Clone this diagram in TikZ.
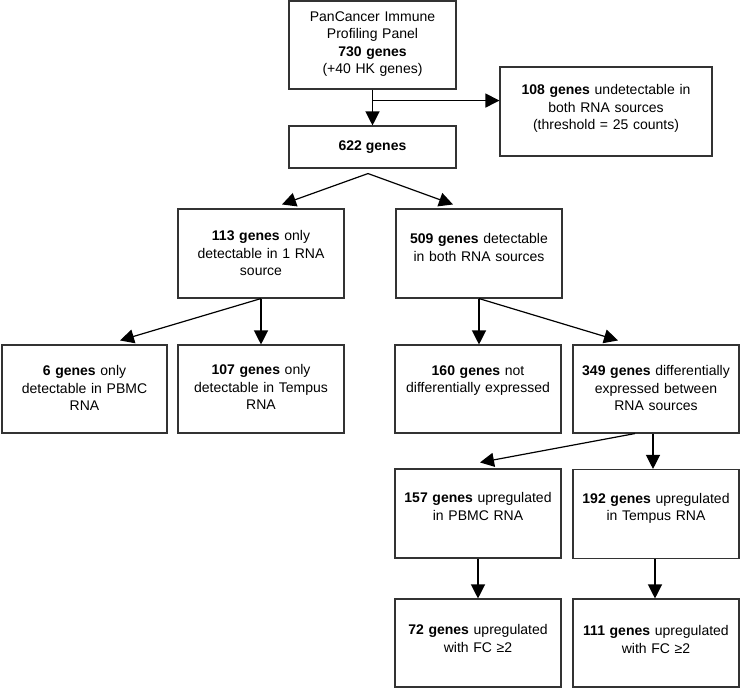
\documentclass[tikz,border=0pt]{standalone}
\usepackage{fontspec}
\setmainfont{Liberation Sans}
\usetikzlibrary{arrows.meta,calc}
\begin{document}
\begin{tikzpicture}[x=1pt,y=-1pt,
  gbox/.style={draw=black!80,line width=1.1pt,inner sep=0pt,fill=white},
  gtext/.style={anchor=north,align=center,inner sep=0pt,text width=200pt,
     font=\fontsize{14}{17.4}\selectfont},
  arr/.style={draw=black,line width=1.2pt,-{Triangle[length=14pt,width=14pt]}},
  plain/.style={draw=black,line width=1.2pt}]
\useasboundingbox (0,0) rectangle (740,689);
% boxes
\node[gbox,minimum width=167pt,minimum height=88pt] (b1) at (372.5,45) {};
\node[gbox,minimum width=212pt,minimum height=89pt] (b2) at (606,111.5) {};
\node[gbox,minimum width=167pt,minimum height=42pt] (b3) at (372.5,147) {};
\node[gbox,minimum width=166pt,minimum height=89pt] (b4) at (261,253.5) {};
\node[gbox,minimum width=166pt,minimum height=89pt] (b5) at (479,253.5) {};
\node[gbox,minimum width=165pt,minimum height=88pt] (b6) at (84.5,389) {};
\node[gbox,minimum width=166pt,minimum height=88pt] (b7) at (261,389) {};
\node[gbox,minimum width=166pt,minimum height=88pt] (b8) at (478,389) {};
\node[gbox,minimum width=166pt,minimum height=88pt] (b9) at (656,389) {};
\node[gbox,minimum width=166pt,minimum height=89pt] (b10) at (478,513.5) {};
\node[gbox,minimum width=166pt,minimum height=89pt] (b11) at (656,514) {};
\node[gbox,minimum width=166pt,minimum height=88pt] (b12) at (478,643) {};
\node[gbox,minimum width=166pt,minimum height=88pt] (b13) at (656,643) {};
% texts
\node[gtext] (t1) at ([yshift=-11pt]b1.north) {PanCancer Immune\\Profiling Panel\\\textbf{730 genes}\\(+40 HK genes)};
\node[gtext] (t2) at ([yshift=-18pt]b2.north) {\textbf{108 genes} undetectable in\\both RNA sources\\(threshold = 25 counts)};
\node[anchor=center,inner sep=0pt,font=\fontsize{14}{17.4}\selectfont] (t3) at (b3.center) {\textbf{622 genes}};
\node[gtext] (t4) at ([yshift=-22pt]b4.north) {\textbf{113 genes} only\\detectable in 1 RNA\\source};
\node[gtext] (t5) at ([yshift=-25pt]b5.north) {\textbf{509 genes} detectable\\in both RNA sources};
\node[gtext] (t6) at ([yshift=-21pt]b6.north) {\textbf{6 genes} only\\detectable in PBMC\\RNA};
\node[gtext] (t7) at ([yshift=-20pt]b7.north) {\textbf{107 genes} only\\detectable in Tempus\\RNA};
\node[gtext] (t8) at ([yshift=-21pt]b8.north) {\textbf{160 genes} not\\differentially expressed};
\node[gtext] (t9) at ([yshift=-21pt]b9.north) {\textbf{349 genes} differentially\\expressed between\\RNA sources};
\node[gtext] (t10) at ([yshift=-24pt]b10.north) {\textbf{157 genes} upregulated\\in PBMC RNA};
\node[gtext] (t11) at ([yshift=-24pt]b11.north) {\textbf{192 genes} upregulated\\in Tempus RNA};
\node[gtext] (t12) at ([yshift=-26pt]b12.north) {\textbf{72 genes} upregulated\\with FC ≥2};
\node[gtext] (t13) at ([yshift=-27pt]b13.north) {\textbf{111 genes} upregulated\\with FC ≥2};
% connectors
\coordinate (j1) at ($(b1.south)+(0,11)$);
\draw[arr] (b1.south) -- (b3.north);
\draw[arr] (j1) -- (j1 -| b2.west);
\coordinate (a3) at ([xshift=-4.5pt,yshift=-5pt]b3.south);
\draw[arr] (a3) -- ([xshift=21pt,yshift=4pt]b4.north);
\draw[arr] (a3) -- ([xshift=-26pt,yshift=4pt]b5.north);
\draw[arr] (b4.south) -- (b7.north);
\draw[arr] (b4.south) -- ([xshift=35.5pt,yshift=4pt]b6.north);
\draw[arr] (b5.south) -- ([xshift=1pt]b8.north);
\draw[arr] (b5.south) -- ([xshift=-38pt,yshift=4pt]b9.north);
\draw[arr] ([xshift=-3pt]b11.north |- b9.south) -- ([xshift=-3pt]b11.north);
\draw[arr] ([xshift=-21pt]b9.south) -- ([xshift=2pt,yshift=6pt]b10.north);
\draw[arr] (b10.south) -- (b12.north);
\draw[arr] ([xshift=-1pt]b11.south) -- ([xshift=-1pt]b13.north);
\end{tikzpicture}
\end{document}
